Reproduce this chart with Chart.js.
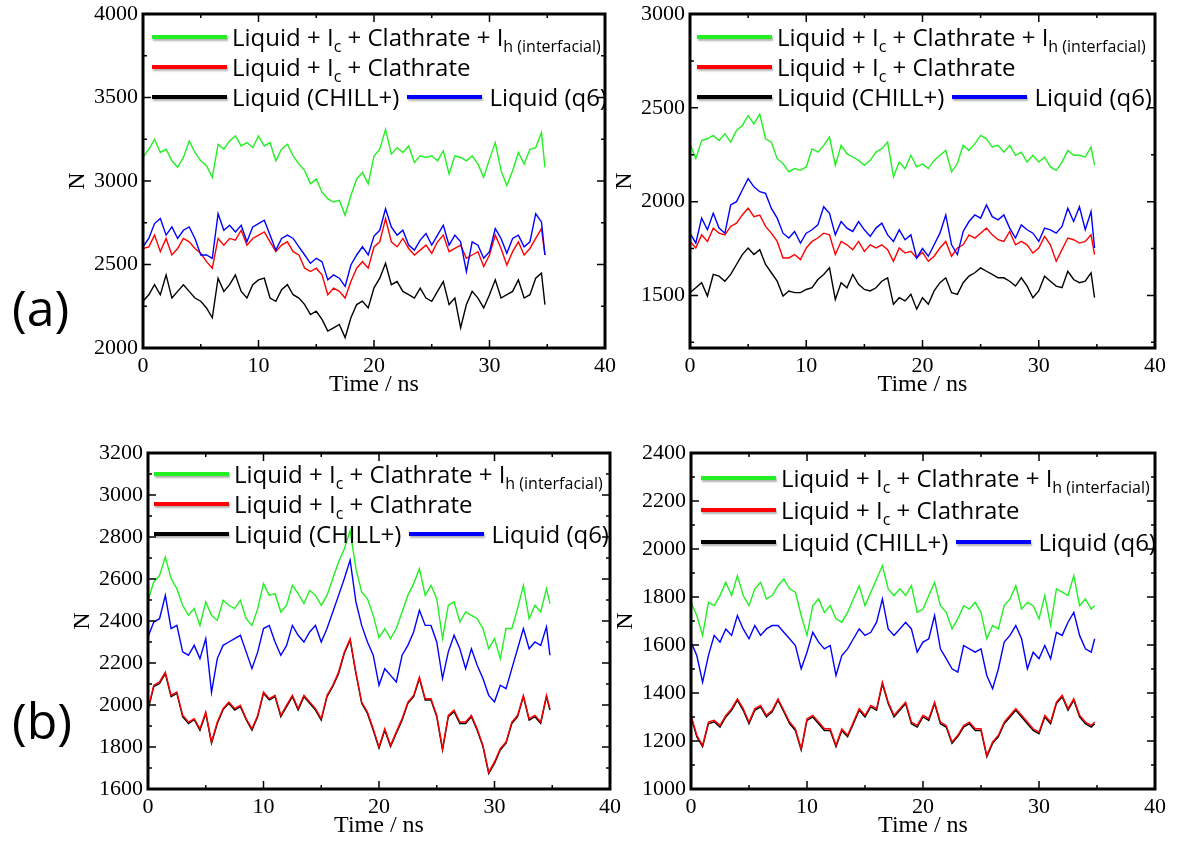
<!DOCTYPE html>
<html>
<head>
<meta charset="utf-8">
<script src="https://cdn.jsdelivr.net/npm/chart.js@4.4.1/dist/chart.umd.min.js"></script>
<style>
  html, body { margin: 0; padding: 0; background: #fff; overflow: hidden; }
  body { width: 1179px; height: 843px; position: relative; font-family: 'Open Sans', sans-serif; }
  canvas.panel { position: absolute; }
  .legend { position: absolute; font-size: 24px; color: #000; line-height: 1; }
  .legend .row { display: flex; align-items: center; height: 30px; white-space: nowrap; }
  .legend .ln { display: inline-block; width: 75px; height: 4px; margin-right: 5px; box-shadow: 1px 2px 2px rgba(0,0,0,0.3); }
  .legend .ln2 { margin-left: 8px; margin-right: 7px; }
  .legend sub { font-size: 16px; vertical-align: -6px; line-height: 0; }
  .tag { position: absolute; font-size: 50px; line-height: 1; color: #000; }
</style>
</head>
<body>
<canvas class="panel" id="tl" width="585" height="402" style="left:40px;top:0px;"></canvas>
<canvas class="panel" id="tr" width="588" height="402" style="left:587px;top:0px;"></canvas>
<canvas class="panel" id="bl" width="585" height="404" style="left:45px;top:439px;"></canvas>
<canvas class="panel" id="br" width="587" height="404" style="left:588px;top:439px;"></canvas>
<div class="tag" style="left:12px;top:282px;">(a)</div>
<div class="tag" style="left:12px;top:695px;">(b)</div>
<script>
// time axis (ns), shared by all four panels
const times = [0, 0.5, 1, 1.5, 2, 2.5, 3, 3.5, 4, 4.5,
  5, 5.5, 6, 6.5, 7, 7.5, 8, 8.5, 9, 9.5,
  10, 10.5, 11, 11.5, 12, 12.5, 13, 13.5, 14, 14.5,
  15, 15.5, 16, 16.5, 17, 17.5, 18, 18.5, 19, 19.5,
  20, 20.5, 21, 21.5, 22, 22.5, 23, 23.5, 24, 24.5,
  25, 25.5, 26, 26.5, 27, 27.5, 28, 28.5, 29, 29.5,
  30, 30.5, 31, 31.5, 32, 32.5, 33, 33.5, 34, 34.5,
  34.8];

// tick values
const xTicks = [0, 5, 10, 15, 20, 25, 30, 35, 40];
const tlTicks = [2000, 2250, 2500, 2750, 3000, 3250, 3500, 3750, 4000];
const trTicks = [1250, 1500, 1750, 2000, 2250, 2500, 2750, 3000];
const blTicks = [1600, 1700, 1800, 1900, 2000, 2100, 2200, 2300, 2400, 2500, 2600, 2700, 2800, 2900, 3000, 3100, 3200];
const brTicks = [1000, 1100, 1200, 1300, 1400, 1500, 1600, 1700, 1800, 1900, 2000, 2100, 2200, 2300, 2400];

// (a) left
const tlGreen = [3141, 3190, 3250, 3171, 3190, 3121, 3082, 3141, 3240, 3171,
  3121, 3091, 3022, 3220, 3190, 3240, 3270, 3210, 3230, 3200,
  3270, 3210, 3230, 3121, 3190, 3220, 3151, 3101, 3062, 2983,
  3012, 2933, 2893, 2874, 2884, 2795, 2913, 3012, 3052, 2983,
  3150, 3190, 3309, 3161, 3200, 3171, 3210, 3111, 3151, 3141,
  3151, 3121, 3181, 3042, 3151, 3141, 3121, 3151, 3101, 3022,
  3131, 3230, 3062, 2973, 3062, 3171, 3101, 3190, 3200, 3290,
  3082];
const tlBlue = [2606, 2656, 2745, 2775, 2676, 2725, 2656, 2705, 2725, 2656,
  2557, 2557, 2537, 2804, 2705, 2735, 2695, 2735, 2636, 2725,
  2745, 2765, 2676, 2586, 2656, 2676, 2656, 2606, 2557, 2507,
  2537, 2517, 2408, 2438, 2418, 2369, 2497, 2557, 2606, 2557,
  2670, 2705, 2834, 2725, 2676, 2705, 2616, 2586, 2646, 2686,
  2616, 2676, 2735, 2616, 2676, 2636, 2458, 2636, 2616, 2537,
  2577, 2715, 2656, 2567, 2656, 2676, 2606, 2636, 2804, 2755,
  2557];
const tlRed = [2596, 2606, 2676, 2577, 2656, 2557, 2596, 2656, 2636, 2596,
  2567, 2517, 2478, 2656, 2616, 2656, 2646, 2705, 2616, 2656,
  2676, 2695, 2636, 2577, 2616, 2636, 2577, 2557, 2478, 2458,
  2478, 2438, 2319, 2359, 2339, 2299, 2398, 2478, 2517, 2478,
  2605, 2636, 2775, 2636, 2606, 2656, 2596, 2557, 2586, 2616,
  2567, 2636, 2676, 2577, 2596, 2616, 2537, 2557, 2577, 2488,
  2557, 2676, 2596, 2497, 2577, 2636, 2557, 2596, 2656, 2715,
  2557];
const tlBlack = [2280, 2319, 2379, 2319, 2438, 2299, 2339, 2379, 2339, 2299,
  2280, 2240, 2181, 2418, 2339, 2379, 2438, 2339, 2299, 2379,
  2408, 2418, 2299, 2280, 2349, 2379, 2319, 2299, 2260, 2200,
  2220, 2171, 2101, 2121, 2141, 2062, 2181, 2260, 2280, 2240,
  2360, 2418, 2507, 2379, 2398, 2339, 2319, 2299, 2359, 2299,
  2280, 2339, 2398, 2260, 2299, 2121, 2260, 2339, 2299, 2240,
  2319, 2408, 2299, 2319, 2339, 2408, 2299, 2319, 2418, 2448,
  2260];

// (a) right
const trGreen = [2308, 2229, 2326, 2335, 2353, 2326, 2361, 2317, 2379, 2406,
  2458, 2414, 2467, 2335, 2317, 2229, 2203, 2159, 2176, 2167,
  2185, 2282, 2264, 2300, 2344, 2194, 2300, 2256, 2238, 2220,
  2194, 2220, 2264, 2282, 2317, 2132, 2211, 2176, 2247, 2185,
  2200, 2176, 2220, 2247, 2273, 2159, 2203, 2300, 2273, 2308,
  2353, 2335, 2291, 2300, 2264, 2300, 2247, 2264, 2211, 2247,
  2211, 2238, 2185, 2167, 2211, 2273, 2247, 2247, 2238, 2291,
  2194];
const trBlue = [1832, 1779, 1912, 1850, 1938, 1859, 1832, 1982, 2000, 2062,
  2123, 2079, 2053, 2044, 1964, 1912, 1832, 1806, 1841, 1779,
  1832, 1850, 1876, 1973, 1938, 1823, 1894, 1859, 1841, 1894,
  1850, 1815, 1859, 1885, 1823, 1788, 1850, 1797, 1823, 1700,
  1750, 1709, 1770, 1832, 1929, 1770, 1718, 1841, 1894, 1929,
  1912, 1982, 1920, 1903, 1929, 1859, 1806, 1876, 1850, 1832,
  1788, 1859, 1850, 1832, 1868, 1965, 1894, 1973, 1850, 1947,
  1753];
const trRed = [1788, 1753, 1823, 1788, 1859, 1832, 1823, 1868, 1885, 1929,
  1965, 1920, 1929, 1868, 1832, 1788, 1700, 1700, 1718, 1691,
  1753, 1788, 1806, 1832, 1823, 1718, 1788, 1770, 1744, 1788,
  1735, 1770, 1753, 1770, 1744, 1682, 1753, 1726, 1735, 1700,
  1730, 1682, 1709, 1753, 1788, 1709, 1753, 1770, 1823, 1806,
  1832, 1859, 1823, 1797, 1788, 1841, 1770, 1788, 1770, 1726,
  1753, 1815, 1770, 1682, 1744, 1806, 1797, 1779, 1788, 1823,
  1718];
const trBlack = [1515, 1541, 1568, 1497, 1612, 1603, 1576, 1612, 1665, 1718,
  1753, 1718, 1744, 1665, 1621, 1576, 1497, 1524, 1515, 1515,
  1532, 1541, 1585, 1612, 1647, 1479, 1568, 1541, 1612, 1559,
  1532, 1524, 1541, 1576, 1594, 1453, 1488, 1471, 1506, 1427,
  1488, 1453, 1524, 1568, 1594, 1515, 1506, 1568, 1603, 1621,
  1647, 1629, 1612, 1594, 1594, 1576, 1550, 1594, 1550, 1488,
  1524, 1603, 1576, 1550, 1541, 1629, 1585, 1568, 1576, 1621,
  1488];

// (b) left
const blGreen = [2498, 2586, 2617, 2705, 2602, 2554, 2475, 2427, 2459, 2379,
  2491, 2427, 2403, 2499, 2475, 2459, 2499, 2411, 2379, 2459,
  2578, 2522, 2530, 2443, 2475, 2570, 2530, 2483, 2546, 2522,
  2475, 2522, 2602, 2681, 2744, 2830, 2649, 2538, 2506, 2427,
  2320, 2364, 2316, 2364, 2443, 2522, 2578, 2649, 2522, 2570,
  2506, 2316, 2475, 2491, 2395, 2443, 2427, 2411, 2364, 2268,
  2316, 2221, 2364, 2364, 2459, 2570, 2411, 2475, 2443, 2554,
  2483];
const blBlue = [2324, 2395, 2411, 2522, 2364, 2379, 2253, 2237, 2284, 2221,
  2316, 2060, 2221, 2284, 2300, 2316, 2332, 2253, 2173, 2253,
  2364, 2379, 2300, 2237, 2284, 2379, 2332, 2300, 2348, 2379,
  2300, 2364, 2443, 2522, 2602, 2690, 2491, 2379, 2300, 2237,
  2094, 2173, 2141, 2110, 2237, 2284, 2348, 2451, 2379, 2379,
  2300, 2126, 2253, 2332, 2268, 2173, 2268, 2189, 2126, 2046,
  2015, 2094, 2078, 2173, 2268, 2364, 2268, 2300, 2284, 2372,
  2237];
const blRed = [1983, 2094, 2110, 2157, 2046, 2062, 1951, 1919, 1935, 1887,
  1967, 1824, 1919, 1983, 2014, 1983, 1999, 1935, 1887, 1951,
  2062, 2030, 2046, 1951, 1999, 2046, 1983, 2046, 2014, 1983,
  1935, 2046, 2094, 2157, 2253, 2316, 2157, 2014, 1967, 1887,
  1800, 1887, 1808, 1872, 1935, 2014, 2046, 2133, 2030, 2030,
  1951, 1792, 1951, 1975, 1919, 1919, 1951, 1887, 1808, 1680,
  1729, 1792, 1824, 1919, 1951, 2046, 1935, 1951, 1919, 2046,
  1983];
const blBlack = [1975, 2088, 2102, 2150, 2040, 2055, 1945, 1912, 1930, 1880,
  1960, 1818, 1912, 1978, 2008, 1976, 1992, 1930, 1880, 1945,
  2056, 2024, 2040, 1944, 1992, 2040, 1976, 2040, 2008, 1976,
  1928, 2040, 2088, 2150, 2246, 2310, 2150, 2008, 1960, 1880,
  1794, 1880, 1802, 1866, 1928, 2008, 2040, 2126, 2024, 2024,
  1944, 1786, 1944, 1968, 1912, 1912, 1944, 1880, 1802, 1674,
  1722, 1786, 1818, 1912, 1944, 2040, 1928, 1944, 1912, 2040,
  1976];

// (b) right
const brGreen = [1778, 1723, 1640, 1778, 1764, 1806, 1861, 1806, 1889, 1806,
  1764, 1834, 1861, 1792, 1806, 1847, 1875, 1834, 1820, 1723,
  1640, 1764, 1792, 1736, 1764, 1709, 1695, 1736, 1792, 1847,
  1764, 1820, 1875, 1931, 1834, 1806, 1834, 1806, 1847, 1736,
  1750, 1806, 1861, 1764, 1736, 1667, 1709, 1764, 1750, 1778,
  1736, 1626, 1681, 1667, 1764, 1792, 1847, 1750, 1778, 1764,
  1709, 1806, 1681, 1834, 1820, 1806, 1889, 1764, 1792, 1750,
  1764];
const brBlue = [1612, 1556, 1445, 1556, 1640, 1612, 1667, 1640, 1723, 1667,
  1626, 1681, 1640, 1667, 1681, 1681, 1653, 1626, 1598, 1501,
  1570, 1653, 1612, 1584, 1598, 1473, 1556, 1584, 1626, 1667,
  1640, 1653, 1695, 1792, 1667, 1640, 1667, 1695, 1667, 1570,
  1612, 1626, 1723, 1584, 1543, 1501, 1487, 1598, 1584, 1570,
  1584, 1473, 1418, 1501, 1612, 1640, 1681, 1626, 1501, 1570,
  1543, 1598, 1543, 1653, 1640, 1695, 1736, 1640, 1584, 1570,
  1626];
const brRed = [1307, 1224, 1182, 1279, 1286, 1265, 1307, 1335, 1376, 1335,
  1279, 1335, 1348, 1307, 1328, 1376, 1328, 1279, 1251, 1168,
  1293, 1307, 1279, 1251, 1251, 1182, 1251, 1224, 1279, 1335,
  1307, 1348, 1335, 1445, 1362, 1307, 1335, 1362, 1279, 1265,
  1307, 1293, 1362, 1279, 1265, 1196, 1224, 1265, 1279, 1251,
  1251, 1140, 1196, 1224, 1279, 1307, 1335, 1307, 1279, 1251,
  1237, 1307, 1279, 1362, 1390, 1335, 1376, 1307, 1279, 1265,
  1279];
const brBlack = [1300, 1218, 1176, 1272, 1280, 1258, 1300, 1328, 1370, 1328,
  1272, 1328, 1342, 1300, 1322, 1370, 1322, 1272, 1244, 1162,
  1286, 1300, 1272, 1244, 1244, 1176, 1244, 1218, 1272, 1328,
  1300, 1342, 1328, 1438, 1356, 1300, 1328, 1356, 1272, 1258,
  1300, 1286, 1356, 1272, 1258, 1190, 1218, 1258, 1272, 1244,
  1244, 1134, 1190, 1218, 1272, 1300, 1328, 1300, 1272, 1244,
  1230, 1300, 1272, 1356, 1384, 1328, 1370, 1300, 1272, 1258,
  1272];

const legendLabels = [
  'Liquid + I<sub>c</sub> + Clathrate + I<sub>h (interfacial)</sub>',
  'Liquid + I<sub>c</sub> + Clathrate',
  'Liquid (CHILL+)',
  'Liquid (q6)'
];

const GREEN = '#22f022';
const RED = '#ff0000';
const BLACK = '#000000';
const BLUE = '#0000ff';
const serif = 'Liberation Serif, Times New Roman, serif';

function toPoints(vals){
  return vals.map((v, i) => ({x: times[i], y: v}));
}

// box frame + inward ticks on all four sides, taken from the scales
const frameTicks = {
  id: 'frameTicks',
  afterDraw(chart, args, opts){
    const ctx = chart.ctx;
    const a = chart.chartArea;
    const xs = chart.scales.x;
    const ys = chart.scales.y;
    ctx.save();
    ctx.strokeStyle = '#000';
    ctx.lineWidth = 1.5;
    ctx.beginPath();
    xs.ticks.forEach(function(t){
      let px = xs.getPixelForValue(t.value);
      let len = t.value % opts.xMajor === 0 ? 8 : 4;
      ctx.moveTo(px, a.bottom); ctx.lineTo(px, a.bottom - len);
      ctx.moveTo(px, a.top); ctx.lineTo(px, a.top + len);
    });
    ys.ticks.forEach(function(t){
      let py = ys.getPixelForValue(t.value);
      let len = t.value % opts.yMajor === 0 ? 8 : 4;
      ctx.moveTo(a.left, py); ctx.lineTo(a.left + len, py);
      ctx.moveTo(a.right, py); ctx.lineTo(a.right - len, py);
    });
    ctx.stroke();
    ctx.lineWidth = 3;
    ctx.strokeRect(a.left, a.top, a.right - a.left, a.bottom - a.top);
    ctx.restore();
  }
};

function makePanel(id, p){
  let ctx = document.getElementById(id).getContext('2d');
  let line = function(vals, color){
    return {
      data: toPoints(vals),
      borderColor: color,
      backgroundColor: color,
      borderWidth: 1.4,
      pointRadius: 0,
      tension: 0,
      fill: false
    };
  };
  return new Chart(ctx, {
    type: 'line',
    data: {
      datasets: [
        line(p.green, GREEN),
        line(p.blue, BLUE),
        line(p.red, RED),
        line(p.black, BLACK)
      ]
    },
    options: {
      responsive: false,
      animation: false,
      events: [],
      layout: { padding: { top: 14, right: 20, left: 0, bottom: 0 } },
      plugins: {
        legend: { display: false },
        tooltip: { enabled: false },
        frameTicks: { xMajor: 10, yMajor: p.yMajor }
      },
      scales: {
        x: {
          type: 'linear',
          min: 0,
          max: 40,
          afterBuildTicks(scale){
            scale.ticks = xTicks.map(v => ({ value: v }));
          },
          grid: { display: false, drawTicks: false },
          border: { display: false },
          ticks: {
            autoSkip: false,
            maxRotation: 0,
            padding: 5,
            color: '#000',
            font: { family: serif, size: 22 },
            callback: function(v){ return v % 10 === 0 ? v : ''; }
          },
          title: {
            display: true,
            text: 'Time / ns',
            color: '#000',
            font: { family: serif, size: 24 },
            padding: { top: 0, bottom: 3 }
          },
          afterFit(scale){
            scale.height = 54;
            scale.paddingLeft = 0;
            scale.paddingRight = 0;
          }
        },
        y: {
          type: 'linear',
          min: p.yMin,
          max: p.yMax,
          afterBuildTicks(scale){
            scale.ticks = p.yTicks.map(v => ({ value: v }));
          },
          grid: { display: false, drawTicks: false },
          border: { display: false },
          ticks: {
            autoSkip: false,
            padding: 5,
            color: '#000',
            font: { family: serif, size: 22 },
            callback: function(v){ return v % p.yMajor === 0 ? v : ''; }
          },
          title: {
            display: true,
            text: 'N',
            color: '#000',
            font: { family: serif, size: 24 },
            padding: { top: 23, bottom: 0 }
          },
          afterFit(scale){
            scale.width = 103;
            scale.paddingTop = 0;
            scale.paddingBottom = 0;
          }
        }
      }
    },
    plugins: [frameTicks]
  });
}

function makeLegend(left, top, rowH){
  let box = document.createElement('div');
  box.className = 'legend';
  box.style.left = left + 'px';
  box.style.top = top + 'px';
  box.innerHTML =
    '<div class="row" style="height:' + rowH + 'px"><span class="ln" style="background:' + GREEN + '"></span><span>' + legendLabels[0] + '</span></div>' +
    '<div class="row" style="height:' + rowH + 'px"><span class="ln" style="background:' + RED + '"></span><span>' + legendLabels[1] + '</span></div>' +
    '<div class="row" style="height:' + rowH + 'px"><span class="ln" style="background:' + BLACK + '"></span><span>' + legendLabels[2] + '</span>' +
    '<span class="ln ln2" style="background:' + BLUE + '"></span><span>' + legendLabels[3] + '</span></div>';
  document.body.appendChild(box);
}

makePanel('tl', { green: tlGreen, blue: tlBlue, red: tlRed, black: tlBlack, yMin: 2000, yMax: 4000, yTicks: tlTicks, yMajor: 500 });
makePanel('tr', { green: trGreen, blue: trBlue, red: trRed, black: trBlack, yMin: 1220, yMax: 3000, yTicks: trTicks, yMajor: 500 });
makePanel('bl', { green: blGreen, blue: blBlue, red: blRed, black: blBlack, yMin: 1600, yMax: 3200, yTicks: blTicks, yMajor: 200 });
makePanel('br', { green: brGreen, blue: brBlue, red: brRed, black: brBlack, yMin: 1000, yMax: 2400, yTicks: brTicks, yMajor: 200 });

makeLegend(152, 22, 30);
makeLegend(697, 22, 30);
makeLegend(154, 459, 30);
makeLegend(701, 462, 32);
</script>
</body>
</html>
